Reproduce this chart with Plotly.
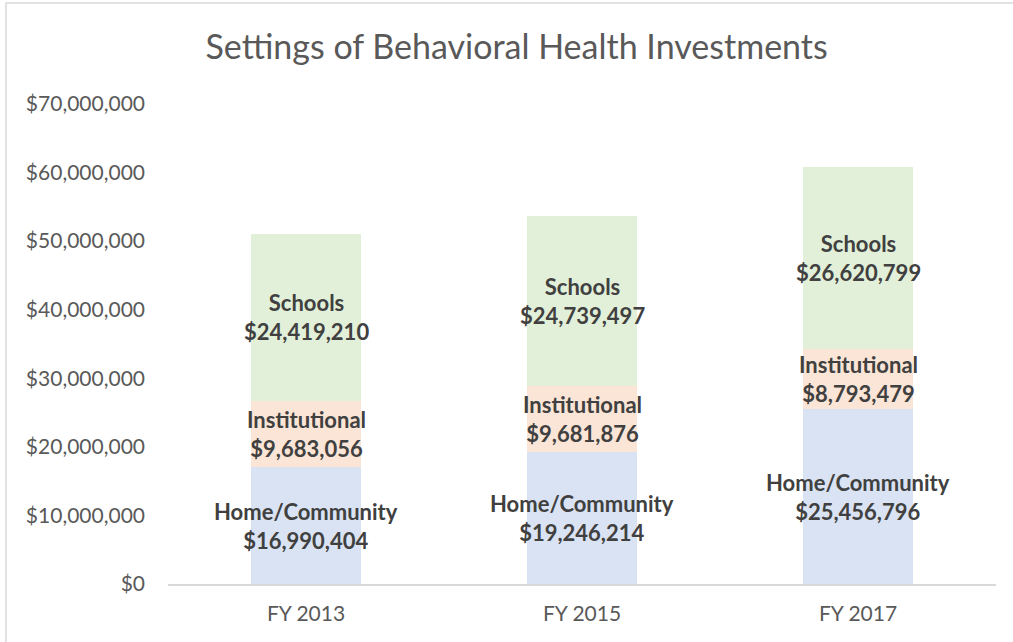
import plotly.graph_objects as go

categories = ["FY 2013", "FY 2015", "FY 2017"]
series_names = ["Home/Community", "Institutional", "Schools"]
home = [16990404, 19246214, 25456796]
institutional = [9683056, 9681876, 8793479]
schools = [24419210, 24739497, 26620799]
tick_vals = [0, 10000000, 20000000, 30000000, 40000000, 50000000, 60000000, 70000000]
tick_text = ["$0", "$10,000,000", "$20,000,000", "$30,000,000", "$40,000,000",
             "$50,000,000", "$60,000,000", "$70,000,000"]
colors = ["#DAE3F3", "#FBE5D6", "#E2F0D9"]

series = [home, institutional, schools]
FONT = "Lato"

fig = go.Figure()
for name, vals, col in zip(series_names, series, colors):
    fig.add_trace(go.Bar(x=categories, y=vals, name=name, marker_color=col,
                         marker_line_width=0, width=0.4, hoverinfo="skip"))

annotations = []
base = [0, 0, 0]
for name, vals in zip(series_names, series):
    for i, c in enumerate(categories):
        mid = base[i] + vals[i] / 2
        annotations.append(dict(
            x=c, y=mid, xref="x", yref="y", showarrow=False,
            text=f"<b>{name}<br>${vals[i]:,}</b>",
            font=dict(family=FONT, size=22, color="#404040"),
            align="center"))
        base[i] += vals[i]

fig.update_layout(
    barmode="stack",
    width=1013, height=642,
    margin=dict(l=168, r=17, t=104, b=58),
    paper_bgcolor="white", plot_bgcolor="white",
    showlegend=False,
    bargap=0.6,
    title=dict(text="Settings of Behavioral Health Investments",
               x=0.51, xanchor="center", y=0.927, yanchor="middle",
               font=dict(family=FONT, size=34, color="#595959")),
    xaxis=dict(showline=True, linecolor="#D9D9D9", linewidth=1.5,
               ticks="", tickfont=dict(family=FONT, size=21, color="#595959"),
               showgrid=False, ticklabelstandoff=10),
    yaxis=dict(range=[0, 70000000], tickvals=tick_vals, ticktext=tick_text,
               showgrid=False, zeroline=False, showline=False,
               tickfont=dict(family=FONT, size=21, color="#595959"),
               ticklabelstandoff=22),
    annotations=annotations,
    shapes=[dict(type="rect", xref="paper", yref="paper",
                 x0=(6 - 168) / 828, x1=(1020 - 168) / 828,
                 y0=(584 - 650) / 480, y1=(584 - 3) / 480,
                 line=dict(color="#D9D9D9", width=1.5), fillcolor="rgba(0,0,0,0)",
                 layer="below")],
)

fig.write_html("out.html", config={"displayModeBar": False},
               post_script="document.body.style.margin='0';document.body.style.overflow='hidden';")
